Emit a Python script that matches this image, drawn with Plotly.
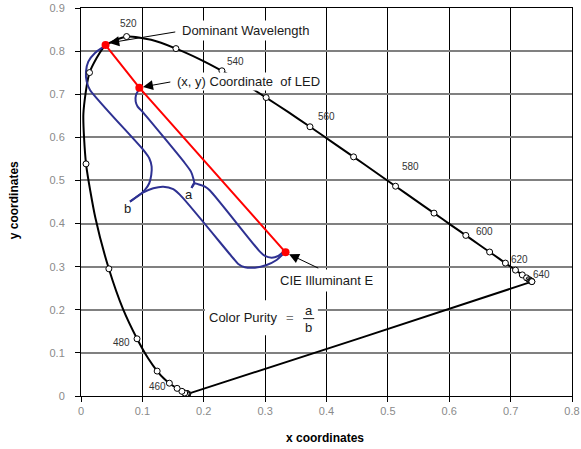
import plotly.graph_objects as go

# ---- Spectral locus (CIE 1931), 5 nm steps ----
wavelengths = [380, 385, 390, 395, 400, 405, 410, 415, 420, 425, 430, 435, 440, 445, 450,
               455, 460, 465, 470, 475, 480, 485, 490, 495, 500, 505, 510, 515, 520, 525,
               530, 535, 540, 545, 550, 555, 560, 565, 570, 575, 580, 585, 590, 595, 600,
               605, 610, 615, 620, 625, 630, 635, 640, 645, 650, 655, 660, 665, 670, 675,
               680, 685, 690, 695, 700]
locus_x = [0.1741, 0.1740, 0.1738, 0.1736, 0.1733, 0.1730, 0.1726, 0.1721, 0.1714, 0.1703,
           0.1689, 0.1669, 0.1644, 0.1611, 0.1566, 0.1510, 0.1440, 0.1355, 0.1241, 0.1096,
           0.0913, 0.0687, 0.0454, 0.0235, 0.0082, 0.0039, 0.0139, 0.0389, 0.0743, 0.1142,
           0.1547, 0.1929, 0.2296, 0.2658, 0.3016, 0.3373, 0.3731, 0.4087, 0.4441, 0.4788,
           0.5125, 0.5448, 0.5752, 0.6029, 0.6270, 0.6482, 0.6658, 0.6801, 0.6915, 0.7006,
           0.7079, 0.7140, 0.7190, 0.7230, 0.7260, 0.7283, 0.7300, 0.7311, 0.7320, 0.7327,
           0.7334, 0.7340, 0.7344, 0.7346, 0.7347]
locus_y = [0.0050, 0.0050, 0.0049, 0.0049, 0.0048, 0.0048, 0.0048, 0.0048, 0.0051, 0.0058,
           0.0069, 0.0086, 0.0109, 0.0138, 0.0177, 0.0227, 0.0297, 0.0399, 0.0578, 0.0868,
           0.1327, 0.2007, 0.2950, 0.4127, 0.5384, 0.6548, 0.7502, 0.8120, 0.8338, 0.8262,
           0.8059, 0.7816, 0.7543, 0.7243, 0.6923, 0.6589, 0.6245, 0.5896, 0.5547, 0.5202,
           0.4866, 0.4544, 0.4242, 0.3965, 0.3725, 0.3514, 0.3340, 0.3197, 0.3083, 0.2993,
           0.2920, 0.2859, 0.2809, 0.2770, 0.2740, 0.2717, 0.2700, 0.2689, 0.2680, 0.2673,
           0.2666, 0.2660, 0.2656, 0.2654, 0.2653]

# wavelength labels
wl_labels = ["460", "480", "500", "520", "540", "560", "580", "600", "620", "640"]
wl_label_x = [0.124, 0.066, -0.034, 0.077, 0.251, 0.400, 0.537, 0.658, 0.715, 0.750]
wl_label_y = [0.022, 0.125, 0.538, 0.863, 0.777, 0.648, 0.532, 0.381, 0.316, 0.282]

# key points: dominant wavelength, LED coordinate, CIE illuminant E
key_x = [0.040, 0.0950, 0.3333]
key_y = [0.814, 0.7153, 0.3333]

# curly brace "b" (dominant wavelength -> E)
brace_b_upper_x = [0.0419, 0.0228, 0.0119, 0.0081, 0.0093, 0.0147, 0.1015, 0.1112, 0.1151,
                   0.1145, 0.1112, 0.1042, 0.0989, 0.0798]
brace_b_upper_y = [0.8144, 0.7958, 0.7756, 0.7524, 0.7292, 0.7100, 0.5708, 0.5515, 0.5320,
                   0.5128, 0.4935, 0.4780, 0.4703, 0.4508]
brace_b_lower_x = [0.0798, 0.0989, 0.1178, 0.1340, 0.1503, 0.1640, 0.2480, 0.2562, 0.2671,
                   0.2834, 0.3024, 0.3187, 0.3295, 0.3333]
brace_b_lower_y = [0.4508, 0.4703, 0.4819, 0.4856, 0.4796, 0.4624, 0.3195, 0.3063, 0.2986,
                   0.2977, 0.3039, 0.3155, 0.3295, 0.3333]
# curly brace "a" (LED -> E)
brace_a_upper_x = [0.0961, 0.0896, 0.0891, 0.0923, 0.0989, 0.1694, 0.1792, 0.1829, 0.1845, 0.1800]
brace_a_upper_y = [0.7146, 0.6984, 0.6828, 0.6712, 0.6613, 0.5399, 0.5204, 0.5051, 0.4935, 0.4826]
brace_a_lower_x = [0.1800, 0.1845, 0.1910, 0.2020, 0.2101, 0.2915, 0.2997, 0.3106, 0.3213,
                   0.3285, 0.3333]
brace_a_lower_y = [0.4826, 0.4935, 0.4912, 0.4856, 0.4768, 0.3348, 0.3248, 0.3209, 0.3248,
                   0.3325, 0.3333]

FONT = "Arial, Liberation Sans, sans-serif"
BLUE = "#2e3192"
TXT = "#1a1a1a"

marker_idx = [i for i, w in enumerate(wavelengths) if w % 10 == 0]

fig = go.Figure()
# spectral locus + line of purples
fig.add_trace(go.Scatter(x=locus_x + [locus_x[0]], y=locus_y + [locus_y[0]], mode="lines",
                         line=dict(color="black", width=2, shape="spline", smoothing=0.6),
                         hoverinfo="skip", showlegend=False))
# blue braces
for bx, by in [(brace_b_upper_x, brace_b_upper_y), (brace_b_lower_x, brace_b_lower_y),
               (brace_a_upper_x, brace_a_upper_y), (brace_a_lower_x, brace_a_lower_y)]:
    fig.add_trace(go.Scatter(x=bx, y=by, mode="lines",
                             line=dict(color=BLUE, width=2, shape="spline", smoothing=0.7),
                             hoverinfo="skip", showlegend=False))
# red line
fig.add_trace(go.Scatter(x=key_x, y=key_y, mode="lines", line=dict(color="#ff0000", width=2),
                         hoverinfo="skip", showlegend=False))
# locus markers every 10 nm
fig.add_trace(go.Scatter(x=[locus_x[i] for i in marker_idx], y=[locus_y[i] for i in marker_idx],
                         mode="markers",
                         marker=dict(symbol="circle", size=6, color="white",
                                     line=dict(color="black", width=1)),
                         hoverinfo="skip", showlegend=False))
# red key points
fig.add_trace(go.Scatter(x=key_x, y=key_y, mode="markers",
                         marker=dict(symbol="circle", size=8, color="#ff0000"),
                         hoverinfo="skip", showlegend=False))

ann = []
for t, lx, ly in zip(wl_labels, wl_label_x, wl_label_y):
    ann.append(dict(x=lx, y=ly, xref="x", yref="y", text=t, showarrow=False,
                    font=dict(family=FONT, size=10, color="#333333"), xanchor="center", yanchor="middle"))

# callout texts
ann.append(dict(x=0.160, y=0.847, text="Dominant Wavelength", showarrow=False, xanchor="left",
                yanchor="middle", bgcolor="white", borderpad=2,
                font=dict(family=FONT, size=13, color=TXT)))
ann.append(dict(x=0.153, y=0.729, text="(x, y) Coordinate  of LED", showarrow=False, xanchor="left",
                yanchor="middle", bgcolor="white", borderpad=1,
                font=dict(family=FONT, size=13, color=TXT)))
ann.append(dict(x=0.318, y=0.269, text="CIE Illuminant E", showarrow=False, xanchor="left",
                yanchor="middle", bgcolor="white", borderpad=3,
                font=dict(family=FONT, size=13, color=TXT)))
ann.append(dict(x=0.206, y=0.181, text="Color Purity", showarrow=False, xanchor="left",
                yanchor="middle", font=dict(family=FONT, size=13, color=TXT)))
ann.append(dict(x=0.340, y=0.181, text="=", showarrow=False, xanchor="center",
                yanchor="middle", font=dict(family=FONT, size=13, color="#777777")))
ann.append(dict(x=0.371, y=0.199, text="a", showarrow=False, xanchor="center", yanchor="middle",
                font=dict(family=FONT, size=13, color=TXT)))
ann.append(dict(x=0.371, y=0.159, text="b", showarrow=False, xanchor="center", yanchor="middle",
                font=dict(family=FONT, size=13, color=TXT)))
ann.append(dict(x=0.1765, y=0.468, text="a", showarrow=False, xanchor="center", yanchor="middle",
                font=dict(family=FONT, size=13, color=TXT)))
ann.append(dict(x=0.075, y=0.436, text="b", showarrow=False, xanchor="center", yanchor="middle",
                font=dict(family=FONT, size=13, color=TXT)))

# arrows
for hx, hy, tx, ty in [(0.046, 0.819, 0.156, 0.845), (0.101, 0.717, 0.148, 0.729),
                       (0.339, 0.329, 0.389, 0.295)]:
    ann.append(dict(x=hx, y=hy, ax=tx, ay=ty, xref="x", yref="y", axref="x", ayref="y", text="",
                    showarrow=True, arrowhead=2, arrowsize=2, arrowwidth=1, arrowcolor="black"))

# axis titles
ann.append(dict(x=0.497, y=-0.108, xref="paper", yref="paper", text="<b>x coordinates</b>",
                showarrow=False, xanchor="center", yanchor="middle",
                font=dict(family=FONT, size=12, color="black")))
ann.append(dict(x=-0.136, y=0.505, xref="paper", yref="paper", text="<b>y coordinates</b>",
                showarrow=False, textangle=-90, xanchor="center", yanchor="middle",
                font=dict(family=FONT, size=12, color="black")))

shapes = [
    # white panel behind the colour-purity formula
    dict(type="rect", xref="x", yref="y", x0=0.202, x1=0.386, y0=0.141, y1=0.222,
         fillcolor="white", line=dict(width=0), layer="above"),
    # fraction bar
    dict(type="line", xref="x", yref="y", x0=0.362, x1=0.380, y0=0.1795, y1=0.1795,
         line=dict(color=TXT, width=1), layer="above"),
]

fig.update_layout(
    width=581, height=449,
    margin=dict(l=81, r=9, t=8, b=53, autoexpand=False),
    paper_bgcolor="white", plot_bgcolor="white",
    annotations=ann, shapes=shapes,
    font=dict(family=FONT),
    xaxis=dict(range=[0, 0.8], tick0=0, dtick=0.1, showgrid=True, gridcolor="black", gridwidth=1,
               zeroline=False, showline=True, linecolor="black", linewidth=1, mirror=True,
               ticks="outside", ticklen=5, tickcolor="black",
               tickfont=dict(family=FONT, size=11, color="#8a8a8a")),
    yaxis=dict(range=[0, 0.9], tick0=0, dtick=0.1, showgrid=True, gridcolor="#808080", gridwidth=2,
               zeroline=False, showline=True, linecolor="black", linewidth=1, mirror=True,
               ticks="outside", ticklen=5, tickcolor="black", ticklabelstandoff=8,
               tickfont=dict(family=FONT, size=11, color="#8a8a8a")),
)
fig.write_html("out.html", config={"displayModeBar": False},
               post_script="document.body.style.margin='0';document.body.style.overflow='hidden';")
